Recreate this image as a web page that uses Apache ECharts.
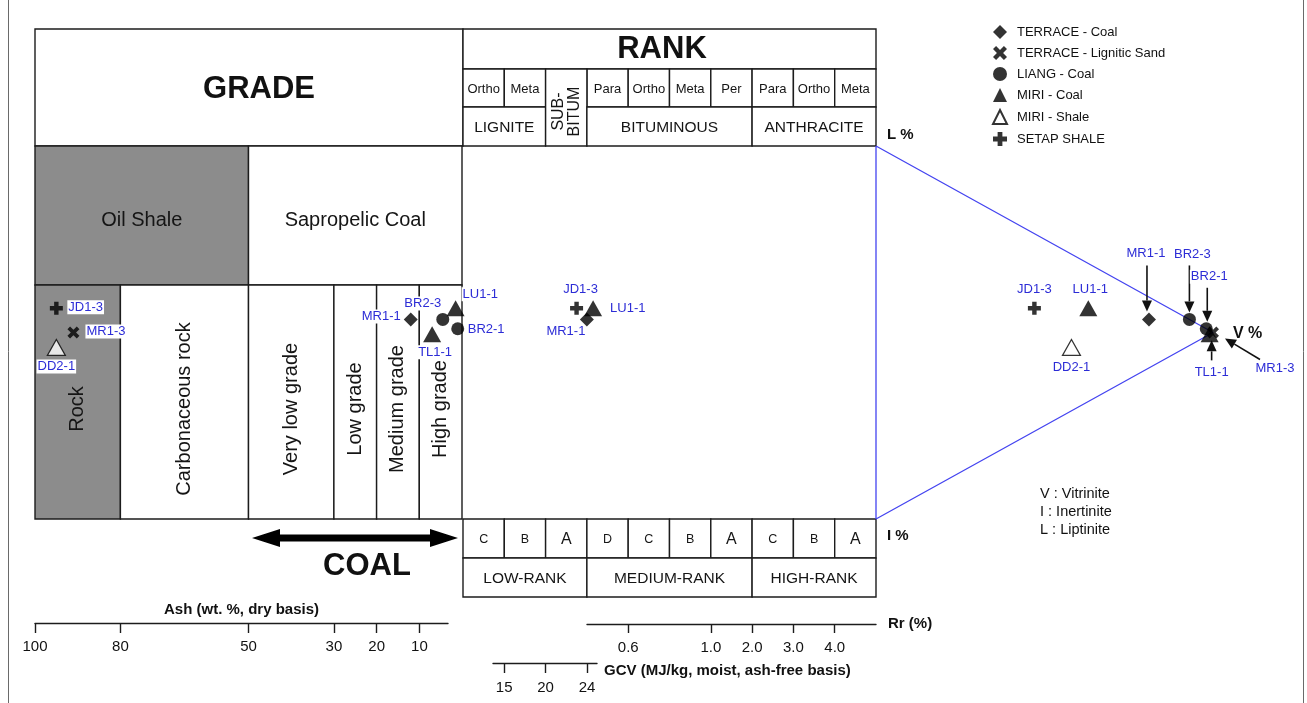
<!DOCTYPE html>
<html>
<head>
<meta charset="utf-8">
<title>Grade, rank and maceral composition</title>
<script src="https://cdn.jsdelivr.net/npm/echarts@6/dist/echarts.min.js"></script>
<style>
  html, body { margin: 0; padding: 0; background: #fff; }
  #chart { width: 1307px; height: 703px; }
</style>
</head>
<body>
<div id="chart"></div>
<script>
// ---- Samples ----
const sampleNames  = ['JD1-3', 'MR1-3', 'DD2-1', 'MR1-1', 'BR2-3', 'LU1-1', 'TL1-1', 'BR2-1'];
const sampleGroups = ['SETAP SHALE', 'TERRACE - Lignitic Sand', 'MIRI - Shale', 'TERRACE - Coal',
                      'LIANG - Coal', 'MIRI - Coal', 'MIRI - Coal', 'LIANG - Coal'];
const ashPct        = [95, 91, 95, 12, 4.5, 1.5, 7, 1];          // wt. %, dry basis
const rankClass     = [2.75, null, null, 3.0, null, 3.15, null, null]; // position on the rank scale (class units)
const vitrinitePct  = [47, 100, 58, 81, 93, 63, 99, 98];
const inertinitePct = [20, 0, 25, 6, 0, 12, 1, 0];
const liptinitePct  = [33, 0, 17, 13, 7, 25, 0, 2];

const groupNames = ['TERRACE - Coal', 'TERRACE - Lignitic Sand', 'LIANG - Coal',
                    'MIRI - Coal', 'MIRI - Shale', 'SETAP SHALE'];

// ---- Grade classes along the ash axis ----
const gradeUpperNames = ['Oil Shale', 'Sapropelic Coal'];
const gradeUpperAsh   = [100, 50, 0];
const gradeLowerNames = ['Rock', 'Carbonaceous rock', 'Very low grade', 'Low grade', 'Medium grade', 'High grade'];
const gradeLowerAsh   = [100, 80, 50, 30, 20, 10, 0];

// ---- Rank classes ----
const rankSubNames    = ['Ortho', 'Meta', '', 'Para', 'Ortho', 'Meta', 'Per', 'Para', 'Ortho', 'Meta'];
const rankGroupNames  = ['LIGNITE', 'SUB-\nBITUM', 'BITUMINOUS', 'ANTHRACITE'];
const rankGroupBounds = [0, 2, 3, 7, 10];
const rankLetters     = ['C', 'B', 'A', 'D', 'C', 'B', 'A', 'C', 'B', 'A'];
const rankLevelNames  = ['LOW-RANK', 'MEDIUM-RANK', 'HIGH-RANK'];
const rankLevelBounds = [0, 3, 7, 10];

// ---- Axis ticks ----
const ashTicks      = [100, 80, 50, 30, 20, 10];
const rrTickLabels  = ['0.6', '1.0', '2.0', '3.0', '4.0'];
const rrTickClass   = [4, 6, 7, 8, 9];
const gcvTickLabels = ['15', '20', '24'];
const gcvTickClass  = [1, 2, 3];

// ---- Styling / layout ----
const FONT = '"Liberation Sans", Arial, Helvetica, sans-serif';
const INK = '#1c1c1c';
const LABEL_BLUE = '#2c2cd6';
const ZONE_GRAY = '#8c8c8c';
const TRIANGLE_BLUE = '#4444f0';
const ROW = { top: 29, rankSub: 69, rankGroup: 107, plotTop: 146, plotBottom: 519, letter: 558, tableBottom: 597 };
const GRADE_SPLIT = (285 - 146) / (519 - 146);
const shadedZones = ['Oil Shale', 'Rock'];

const PATH_PLUS = 'path://M33,0 H67 V33 H100 V67 H67 V100 H33 V67 H0 V33 H33 Z';
const PATH_CROSS = 'path://M22,0 L50,28 L78,0 L100,22 L72,50 L100,78 L78,100 L50,72 L22,100 L0,78 L28,50 L0,22 Z';
const markerStyle = {
  'TERRACE - Coal':          { symbol: 'diamond', symbolSize: 14, itemStyle: { color: '#000' } },
  'TERRACE - Lignitic Sand': { symbol: PATH_CROSS, symbolSize: 12, itemStyle: { color: '#000' } },
  'LIANG - Coal':            { symbol: 'circle', symbolSize: 13, itemStyle: { color: '#000' } },
  'MIRI - Coal':             { symbol: 'triangle', symbolSize: [18, 16], itemStyle: { color: '#000' } },
  'MIRI - Shale':            { symbol: 'triangle', symbolSize: [18, 16], itemStyle: { color: '#fff', borderColor: '#000', borderWidth: 1.2 } },
  'SETAP SHALE':             { symbol: PATH_PLUS, symbolSize: 13, itemStyle: { color: '#000' } }
};

// label placement around each marker, per panel (px offsets)
const leftLabelLayout = {
  'JD1-3': { dx: 11, dy: -1, align: 'left' },
  'MR1-3': { dx: 12, dy: -1, align: 'left' },
  'DD2-1': { dx: 0, dy: 19, align: 'center' },
  'MR1-1': { dx: -9, dy: -3, align: 'right' },
  'BR2-3': { dx: -20, dy: -16, align: 'center' },
  'LU1-1': { dx: 6, dy: -14, align: 'left' },
  'TL1-1': { dx: 3, dy: 18, align: 'center' },
  'BR2-1': { dx: 9, dy: 1, align: 'left' }
};
const midLabelLayout = {
  'JD1-3': { dx: 4, dy: -19, align: 'center' },
  'LU1-1': { dx: 16, dy: 0, align: 'left' },
  'MR1-1': { dx: -21, dy: 12, align: 'center' }
};
const rightLabelLayout = {
  'JD1-3': { dx: 0, dy: -19, align: 'center' },
  'LU1-1': { dx: 2, dy: -19, align: 'center' },
  'DD2-1': { dx: 0, dy: 20, align: 'center' },
  'MR1-1': { dx: -3, dy: -66, align: 'center', arrow: [-2, -54, -2, -8] },
  'BR2-3': { dx: 3, dy: -65, align: 'center', arrow: [0, -54, 0, -7] },
  'BR2-1': { dx: 3, dy: -52, align: 'center', arrow: [1, -41, 1, -7] },
  'TL1-1': { dx: 2, dy: 38, align: 'center', arrow: [2, 26, 2, 6] },
  'MR1-3': { dx: 62, dy: 36, align: 'center', arrow: [47, 27, 12, 6] }
};

const liMinusI = sampleNames.map((_, i) => liptinitePct[i] - inertinitePct[i]);

// ---- Derived cell lists ----
const gradeZones = [];
gradeUpperNames.forEach((n, i) => gradeZones.push({ name: n, from: gradeUpperAsh[i], to: gradeUpperAsh[i + 1], row: 0 }));
gradeLowerNames.forEach((n, i) => gradeZones.push({ name: n, from: gradeLowerAsh[i], to: gradeLowerAsh[i + 1], row: 1 }));

const rankCells = [];
rankSubNames.forEach((t, i) => {
  if (t) rankCells.push({ from: i, to: i + 1, y0: ROW.rankSub, y1: ROW.rankGroup, text: t, size: 13 });
});
rankGroupNames.forEach((t, i) => {
  const span = rankSubNames[rankGroupBounds[i]] === '';
  rankCells.push({ from: rankGroupBounds[i], to: rankGroupBounds[i + 1],
    y0: span ? ROW.rankSub : ROW.rankGroup, y1: ROW.plotTop, text: t, size: span ? 16 : 15.5, rotate: span });
});
rankLetters.forEach((t, i) => rankCells.push({ from: i, to: i + 1, y0: ROW.plotBottom, y1: ROW.letter, text: t, size: t === 'A' ? 16 : 12.5 }));
rankLevelNames.forEach((t, i) => rankCells.push({ from: rankLevelBounds[i], to: rankLevelBounds[i + 1], y0: ROW.letter, y1: ROW.tableBottom, text: t, size: 15.5 }));

// ---- Renderers ----
function gradeZoneItem(params, api) {
  const z = gradeZones[params.dataIndex];
  const cs = params.coordSys;
  const xa = api.coord([z.from, 0])[0];
  const xb = api.coord([z.to, 0])[0];
  const split = cs.y + cs.height * GRADE_SPLIT;
  const y0 = z.row === 0 ? cs.y : split;
  const y1 = z.row === 0 ? split : cs.y + cs.height;
  return {
    type: 'group',
    children: [
      { type: 'rect', shape: { x: Math.min(xa, xb), y: y0, width: Math.abs(xb - xa), height: y1 - y0 },
        style: { fill: shadedZones.includes(z.name) ? ZONE_GRAY : '#fff', stroke: INK, lineWidth: 1.4 } },
      { type: 'text', x: (xa + xb) / 2, y: (y0 + y1) / 2 + (z.row === 0 ? 5 : 7),
        rotation: z.row === 1 ? Math.PI / 2 : 0,
        style: { text: z.name, fontSize: 20, fontFamily: FONT, fill: '#151515', align: 'center', verticalAlign: 'middle' } }
    ]
  };
}

function rankCellItem(params, api) {
  const c = rankCells[params.dataIndex];
  const xa = api.coord([c.from, 0])[0];
  const xb = api.coord([c.to, 0])[0];
  return {
    type: 'group',
    children: [
      { type: 'rect', shape: { x: xa, y: c.y0, width: xb - xa, height: c.y1 - c.y0 },
        style: { fill: '#fff', stroke: INK, lineWidth: 1.4 } },
      { type: 'text', x: (xa + xb) / 2, y: (c.y0 + c.y1) / 2 + (c.rotate ? 4 : 1),
        rotation: c.rotate ? Math.PI / 2 : 0,
        style: { text: c.text, fontSize: c.size, lineHeight: c.size, fontFamily: FONT, fill: '#151515',
                 align: 'center', verticalAlign: 'middle' } }
    ]
  };
}

function labelRenderer(layoutMap) {
  return function (params, api) {
    const name = sampleNames[api.value(2)];
    const lay = layoutMap[name];
    const p = api.coord([api.value(0), api.value(1)]);
    const children = [{
      type: 'text', x: p[0] + lay.dx, y: p[1] + lay.dy,
      style: { text: name, fill: LABEL_BLUE, fontSize: 13, fontFamily: FONT,
               align: lay.align, verticalAlign: 'middle', backgroundColor: '#fff', padding: [1, 1, 0, 1] }
    }];
    if (lay.arrow) {
      const x1 = p[0] + lay.arrow[0], y1 = p[1] + lay.arrow[1];
      const x2 = p[0] + lay.arrow[2], y2 = p[1] + lay.arrow[3];
      const ang = Math.atan2(y2 - y1, x2 - x1);
      const hl = 11, hw = 5;
      const bx = x2 - hl * Math.cos(ang), by = y2 - hl * Math.sin(ang);
      children.push({ type: 'line', shape: { x1, y1, x2: bx, y2: by }, style: { stroke: '#111', lineWidth: 1.6 } });
      children.push({ type: 'polygon', shape: { points: [[x2, y2],
        [bx + hw * Math.sin(ang), by - hw * Math.cos(ang)],
        [bx - hw * Math.sin(ang), by + hw * Math.cos(ang)]] }, style: { fill: '#111' } });
    }
    return { type: 'group', children };
  };
}

// ---- Series ----
const series = [];

series.push({
  type: 'custom', name: 'grade', xAxisIndex: 0, yAxisIndex: 0, z: 1, clip: false, silent: true,
  data: gradeZones.map(z => [z.from, z.to]), renderItem: gradeZoneItem
});
series.push({
  type: 'custom', name: 'rank', xAxisIndex: 1, yAxisIndex: 1, z: 1, clip: false, silent: true,
  data: rankCells.map(c => [c.from, c.to]), renderItem: rankCellItem
});
series.push({
  type: 'line', name: 'maceral triangle', xAxisIndex: 2, yAxisIndex: 2, z: 2, clip: false, silent: true,
  symbol: 'none', lineStyle: { color: TRIANGLE_BLUE, width: 1.3 },
  data: [[0, 100], [100, 0], [0, -100], [0, 100]]
});

const panels = [
  { axis: 0, x: i => ashPct[i], layout: leftLabelLayout },
  { axis: 1, x: i => rankClass[i], layout: midLabelLayout },
  { axis: 2, x: i => vitrinitePct[i], layout: rightLabelLayout }
];

panels.forEach(pan => {
  const idx = sampleNames.map((_, i) => i).filter(i => pan.x(i) !== null);
  series.push({
    type: 'custom', name: 'labels', xAxisIndex: pan.axis, yAxisIndex: pan.axis, z: 3, clip: false, silent: true,
    data: idx.map(i => [pan.x(i), liMinusI[i], i]), renderItem: labelRenderer(pan.layout)
  });
  groupNames.forEach(g => {
    const members = idx.filter(i => sampleGroups[i] === g);
    if (!members.length) return;
    const st = markerStyle[g];
    series.push({
      type: 'scatter', name: g, xAxisIndex: pan.axis, yAxisIndex: pan.axis, z: 4, clip: false,
      symbol: st.symbol, symbolSize: st.symbolSize, symbolKeepAspect: true, itemStyle: st.itemStyle,
      data: members.map(i => [pan.x(i), liMinusI[i]])
    });
  });
});

// ---- Axes ----
const hiddenY = { type: 'value', min: -100, max: 100, show: false };
const axisText = { color: '#111', fontSize: 15, fontFamily: FONT };
const axisLine = { show: true, lineStyle: { color: INK, width: 1.4 } };

const option = {
  backgroundColor: '#fff',
  animation: false,
  textStyle: { fontFamily: FONT },
  legend: {
    orient: 'vertical', left: 992, top: 25, padding: 0, itemWidth: 14, itemHeight: 14, itemGap: 7,
    data: groupNames, selectedMode: false,
    textStyle: { fontSize: 13, fontFamily: FONT, color: '#111', padding: [0, 0, 0, 5] }
  },
  grid: [
    { left: 35, top: ROW.plotTop, width: 427, height: ROW.plotBottom - ROW.plotTop, outerBoundsMode: 'none' },
    { left: 463, top: ROW.plotTop, width: 413, height: ROW.plotBottom - ROW.plotTop, outerBoundsMode: 'none' },
    { left: 876, top: ROW.plotTop, width: 337, height: ROW.plotBottom - ROW.plotTop, outerBoundsMode: 'none' },
    { left: 35, top: 622, width: 413, height: 1, outerBoundsMode: 'none' },
    { left: 587, top: 623, width: 289, height: 1, outerBoundsMode: 'none' },
    { left: 493, top: 662, width: 104, height: 1, outerBoundsMode: 'none' }
  ],
  xAxis: [
    { gridIndex: 0, type: 'value', min: 0, max: 100, inverse: true, show: false },
    { gridIndex: 1, type: 'value', min: 0, max: 10, show: false },
    { gridIndex: 2, type: 'value', min: 0, max: 100, show: false },
    {
      gridIndex: 3, type: 'value', min: 3.3, max: 100, inverse: true, position: 'bottom',
      axisLine, splitLine: { show: false },
      axisTick: { show: true, length: 10, customValues: ashTicks, lineStyle: { color: INK, width: 1.4 } },
      axisLabel: Object.assign({ customValues: ashTicks, margin: 16 }, axisText),
      name: 'Ash (wt. %, dry basis)', nameLocation: 'middle', nameGap: -13, nameMoveOverlap: false,
      nameTextStyle: { fontSize: 15, fontWeight: 'bold', color: '#111', fontFamily: FONT, verticalAlign: 'middle' }
    },
    {
      gridIndex: 4, type: 'value', min: 3, max: 10, position: 'bottom',
      axisLine, splitLine: { show: false },
      axisTick: { show: true, length: 9, customValues: rrTickClass, lineStyle: { color: INK, width: 1.4 } },
      axisLabel: Object.assign({ customValues: rrTickClass, margin: 16,
        formatter: v => rrTickLabels[rrTickClass.indexOf(v)] }, axisText),
      name: 'Rr (%)', nameLocation: 'end', nameGap: 12,
      nameTextStyle: { fontSize: 15, fontWeight: 'bold', color: '#111', fontFamily: FONT }
    },
    {
      gridIndex: 5, type: 'value', min: 0.73, max: 3.24, position: 'bottom',
      axisLine, splitLine: { show: false },
      axisTick: { show: true, length: 10, customValues: gcvTickClass, lineStyle: { color: INK, width: 1.4 } },
      axisLabel: Object.assign({ customValues: gcvTickClass, margin: 17,
        formatter: v => gcvTickLabels[gcvTickClass.indexOf(v)] }, axisText),
      name: 'GCV (MJ/kg, moist, ash-free basis)', nameLocation: 'end', nameGap: 7,
      nameTextStyle: { fontSize: 15, fontWeight: 'bold', color: '#111', fontFamily: FONT, verticalAlign: 'top', align: 'left' }
    }
  ],
  yAxis: [
    Object.assign({ gridIndex: 0 }, hiddenY),
    Object.assign({ gridIndex: 1 }, hiddenY),
    Object.assign({ gridIndex: 2 }, hiddenY),
    { gridIndex: 3, type: 'value', min: 0, max: 1, show: false },
    { gridIndex: 4, type: 'value', min: 0, max: 1, show: false },
    { gridIndex: 5, type: 'value', min: 0, max: 1, show: false }
  ],
  graphic: [
    // page frame
    { type: 'line', shape: { x1: 8.5, y1: 0, x2: 8.5, y2: 703 }, style: { stroke: '#6a6a6a', lineWidth: 1 } },
    { type: 'line', shape: { x1: 1303.5, y1: 0, x2: 1303.5, y2: 703 }, style: { stroke: '#6a6a6a', lineWidth: 1 } },
    // header boxes
    { type: 'rect', shape: { x: 35, y: ROW.top, width: 428, height: ROW.plotTop - ROW.top },
      style: { fill: '#fff', stroke: INK, lineWidth: 1.4 }, z: 0 },
    { type: 'rect', shape: { x: 463, y: ROW.top, width: 413, height: ROW.rankSub - ROW.top },
      style: { fill: '#fff', stroke: INK, lineWidth: 1.4 }, z: 0 },
    { type: 'text', x: 259, y: 89, style: { text: 'GRADE', fontSize: 31, fontWeight: 'bold', fontFamily: FONT, fill: '#111', align: 'center', verticalAlign: 'middle' } },
    { type: 'text', x: 662, y: 49, style: { text: 'RANK', fontSize: 31, fontWeight: 'bold', fontFamily: FONT, fill: '#111', align: 'center', verticalAlign: 'middle' } },
    // coal range arrow
    { type: 'polygon', shape: { points: [[252, 538], [280, 529], [280, 534.5], [430, 534.5], [430, 529], [458, 538],
        [430, 547], [430, 541.5], [280, 541.5], [280, 547]] }, style: { fill: '#000' } },
    { type: 'text', x: 367, y: 566, style: { text: 'COAL', fontSize: 31, fontWeight: 'bold', fontFamily: FONT, fill: '#111', align: 'center', verticalAlign: 'middle' } },
    // triangle apex names
    { type: 'text', x: 887, y: 135, style: { text: 'L %', fontSize: 15, fontWeight: 'bold', fontFamily: FONT, fill: '#111', align: 'left', verticalAlign: 'middle' } },
    { type: 'text', x: 887, y: 536, style: { text: 'I %', fontSize: 15, fontWeight: 'bold', fontFamily: FONT, fill: '#111', align: 'left', verticalAlign: 'middle' } },
    { type: 'text', x: 1233, y: 334, style: { text: 'V %', fontSize: 16, fontWeight: 'bold', fontFamily: FONT, fill: '#111', align: 'left', verticalAlign: 'middle' } },
    // maceral key
    { type: 'text', x: 1040, y: 494, style: { text: 'V : Vitrinite', fontSize: 14.5, fontFamily: FONT, fill: '#111', align: 'left', verticalAlign: 'middle' } },
    { type: 'text', x: 1040, y: 512, style: { text: 'I : Inertinite', fontSize: 14.5, fontFamily: FONT, fill: '#111', align: 'left', verticalAlign: 'middle' } },
    { type: 'text', x: 1040, y: 530, style: { text: 'L : Liptinite', fontSize: 14.5, fontFamily: FONT, fill: '#111', align: 'left', verticalAlign: 'middle' } }
  ],
  series
};

const chart = echarts.init(document.getElementById('chart'), null, { renderer: 'canvas' });
chart.setOption(option);
</script>
</body>
</html>
